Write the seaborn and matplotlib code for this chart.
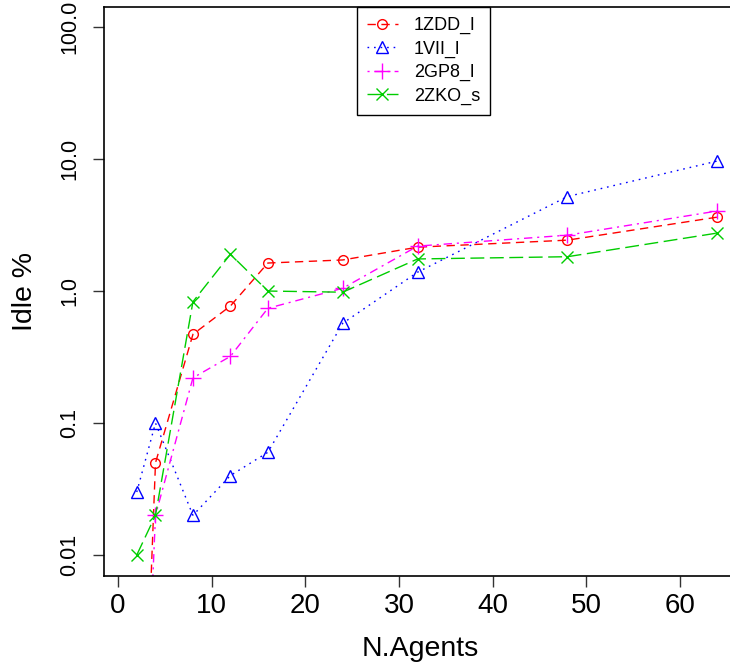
import numpy as np
import pandas as pd
import seaborn as sns
import matplotlib
matplotlib.use("Agg")
import matplotlib.pyplot as plt

# Data
agents = [2, 4, 8, 12, 16, 24, 32, 48, 64]
idle_1zdd = [1e-5, 0.05, 0.47, 0.77, 1.63, 1.72, 2.15, 2.43, 3.63]
idle_1vii = [0.03, 0.10, 0.02, 0.04, 0.06, 0.57, 1.39, 5.2, 9.66]
idle_2gp8 = [1e-5, 0.02, 0.22, 0.32, 0.74, 1.05, 2.19, 2.65, 4.04]
idle_2zko = [0.01, 0.02, 0.83, 1.90, 1.00, 0.98, 1.75, 1.82, 2.75]

series_names = ["1ZDD_l", "1VII_l", "2GP8_l", "2ZKO_s"]
series_values = [idle_1zdd, idle_1vii, idle_2gp8, idle_2zko]

y_ticks = [0.01, 0.1, 1.0, 10.0, 100.0]
y_tick_labels = ["0.01", "0.1", "1.0", "10.0", "100.0"]
x_ticks = [0, 10, 20, 30, 40, 50, 60]

df = pd.DataFrame({
    "agents": agents * len(series_names),
    "idle": sum(series_values, []),
    "series": np.repeat(series_names, len(agents)),
})

sns.set_style("ticks")
plt.rcParams["font.family"] = ["Liberation Sans", "DejaVu Sans"]
plt.rcParams["text.color"] = "black"
plt.rcParams["axes.labelcolor"] = "black"
plt.rcParams["xtick.color"] = "black"
plt.rcParams["ytick.color"] = "black"

# R-like styles: colour, marker, line type
styles = {
    "1ZDD_l": dict(color="red", marker="o", mfc="none", ms=7, linestyle=(0, (6, 4))),
    "1VII_l": dict(color="blue", marker="^", mfc="none", ms=8.5, linestyle=(0, (1.2, 3.5))),
    "2GP8_l": dict(color="magenta", marker="+", ms=11, linestyle=(0, (1.5, 3.5, 6, 3.5))),
    "2ZKO_s": dict(color="#00CD00", marker="x", ms=8, linestyle=(0, (10, 4))),
}

fig = plt.figure(figsize=(7.30, 6.69), dpi=100)
W, H = 730, 669
left, right, top, bottom = 104, 736, 7, 576
ax = fig.add_axes([left / W, 1 - bottom / H, (right - left) / W, (bottom - top) / H])

for name in series_names:
    sub = df[df["series"] == name]
    st = styles[name]
    sns.lineplot(data=sub, x="agents", y="idle", ax=ax, label=name,
                 color=st["color"], marker=st["marker"], markersize=st["ms"],
                 markerfacecolor=st["mfc"] if "mfc" in st else st["color"],
                 markeredgecolor=st["color"], markeredgewidth=1.0,
                 linewidth=1.0, linestyle=st["linestyle"], errorbar=None)

ax.set_yscale("log")
ax.set_xlim(-1.5, 66.0)
ax.set_ylim(10 ** -2.159, 10 ** 2.152)
ax.set_yticks(y_ticks)
ax.set_yticklabels(y_tick_labels, rotation=90, va="center", fontsize=15.5)
ax.yaxis.set_minor_locator(matplotlib.ticker.NullLocator())
ax.set_xticks(x_ticks)
ax.set_xticklabels([str(t) for t in x_ticks], fontsize=20)
ax.tick_params(axis="both", length=8, width=1.0, color="#333333")
ax.tick_params(axis="x", pad=4)
ax.tick_params(axis="y", pad=9)

for sp in ax.spines.values():
    sp.set_visible(True)
    sp.set_linewidth(1.2)
    sp.set_color("black")

ax.set_xlabel("N.Agents", fontsize=20.5)
ax.set_ylabel("Idle %", fontsize=20.5)
ax.xaxis.set_label_coords(0.5, (bottom - 636) / (bottom - top))
ax.yaxis.set_label_coords((38 - left) / (right - left), 0.5)

leg = ax.legend(loc="upper left", bbox_to_anchor=((357 - left) / (right - left), 1.0),
                fontsize=13, frameon=True, fancybox=False, framealpha=1,
                edgecolor="black", handlelength=1.7, handletextpad=0.9,
                labelspacing=0.35, borderpad=0.55, borderaxespad=0)
leg.get_frame().set_linewidth(1.0)

fig.savefig("out.png", dpi=100)
